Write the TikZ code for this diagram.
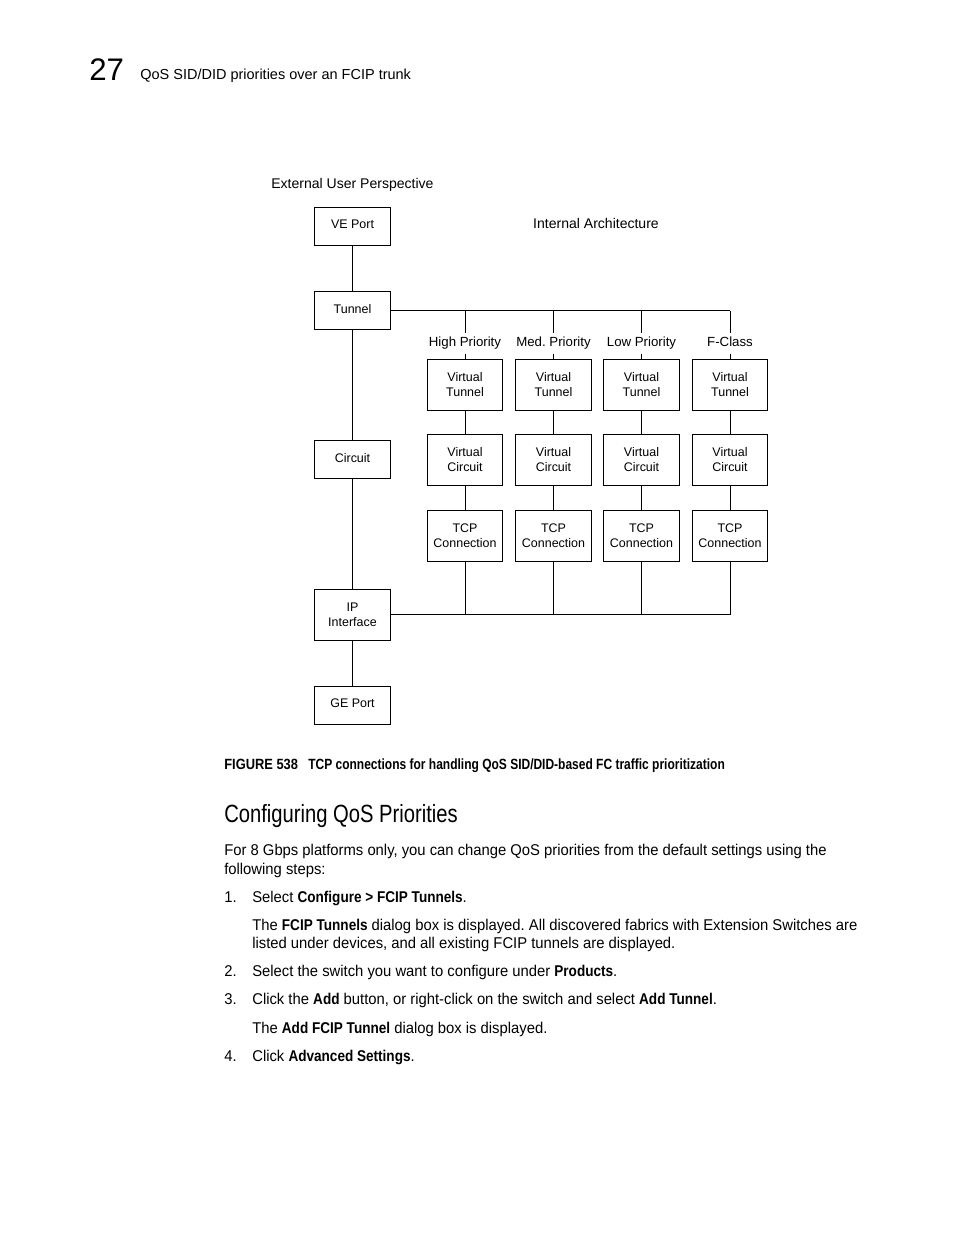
\documentclass[tikz,border=0pt]{standalone}
\usepackage{fontspec}
\setmainfont{Liberation Sans}
\newfontfamily\narrowfont[FakeStretch=0.95, BoldFeatures={FakeStretch=0.87}]{Liberation Sans}
\newfontfamily\capfont[FakeStretch=0.81]{Liberation Sans}
\newfontfamily\fignofont[FakeStretch=0.87]{Liberation Sans}
\frenchspacing
\begin{document}
\begin{tikzpicture}[x=0.6415pt, y=-0.6415pt,
				every node/.style={
						font=\fontsize{8}{9.6}\selectfont,
					},
				block/.style={draw, line width=0.6pt, minimum width=48.2pt, minimum height=24.4pt, align=center, inner sep=1pt},
				oneline/.style={block, text depth=2.5pt},
				colbox/.style={block, minimum height=32.7pt},
				prio/.style={inner sep=2.5pt, text height=6.2pt, text depth=1.8pt, font=\fontsize{8.5}{10}\selectfont},
				title/.style={font=\fontsize{9}{11}\selectfont},
				body/.style={anchor=base west, inner sep=0pt, font=\narrowfont\fontsize{10}{12}\selectfont},
				line/.style={line width=0.6pt},]
			\useasboundingbox (0,0) rectangle (954,1235);
			% page header
			\node[anchor=base west, inner sep=0pt, font=\fontsize{20}{24}\selectfont] (chap) at (89,80) {27};
			\node[anchor=base west, inner sep=0pt, font=\fontsize{9.3}{11}\selectfont] (runhead) at (140,79) {QoS SID/DID priorities over an FCIP trunk};
			% left column
			\node[title, anchor=base west, inner sep=0pt] (extlabel) at (271,188.5) {External User Perspective};
			\node[oneline] (veport) at (352.5,226) {VE Port};
			\node[oneline] (tunnel) at (352.5,310.5) {Tunnel};
			\node[oneline] (circuit) at (352.5,459.5) {Circuit};
			\node[colbox] (ipif) at (352.5,614.5) {IP\\Interface};
			\node[oneline] (geport) at (352.5,705.5) {GE Port};
			\node[title] (intlabel) at (596,223) {Internal Architecture};
			\draw[line] (veport) -- (tunnel) (tunnel) -- (circuit) (circuit) -- (ipif) (ipif) -- (geport);
			% priority columns
			\foreach \i/\x/\p in {1/465/High Priority, 2/553.5/Med. Priority, 3/641.5/Low Priority, 4/730/F-Class} {
					\node[prio] (prio\i) at (\x,343.5) {\p};
					\node[colbox] (vt\i) at (\x,384.5) {Virtual\\Tunnel};
					\node[colbox] (vc\i) at (\x,459.5) {Virtual\\Circuit};
					\node[colbox] (tcp\i) at (\x,535.5) {TCP\\Connection};
					\draw[line] (tunnel.east -| prio\i.north) -- (prio\i.north);
					\draw[line] (prio\i) -- (vt\i) (vt\i) -- (vc\i) (vc\i) -- (tcp\i);
					\draw[line] (tcp\i.south) -- (tcp\i.south |- ipif.east);
				}
			\draw[line] (tunnel.east) -- (tunnel.east -| prio4.north);
			\draw[line] (ipif.east) -- (ipif.east -| tcp4.south);
			% caption and heading
			\node[anchor=base west, inner sep=0pt, font=\fignofont\bfseries\fontsize{9.5}{11}\selectfont] (figno) at (224,769) {FIGURE 538};
			\node[anchor=base west, inner sep=0pt, font=\capfont\bfseries\fontsize{9.5}{11}\selectfont] (figcap) at (308,769) {TCP connections for handling QoS SID/DID-based FC traffic prioritization};
			\node[anchor=base west, inner sep=0pt, font=\capfont\fontsize{16}{19}\selectfont] (heading) at (224,822) {Configuring QoS Priorities};
			% body text
			\node[body] (l1) at (224,855) {For 8 Gbps platforms only, you can change QoS priorities from the default settings using the};
			\node[body] (l2) at (224,874) {following steps:};
			\node[body] (n1) at (224,902) {1.};
			\node[body] (s1) at (252,902) {Select \textbf{Configure > FCIP Tunnels}.};
			\node[body] (s1a) at (252,930) {The \textbf{FCIP Tunnels} dialog box is displayed. All discovered fabrics with Extension Switches are};
			\node[body] (s1b) at (252,948) {listed under devices, and all existing FCIP tunnels are displayed.};
			\node[body] (n2) at (224,976) {2.};
			\node[body] (s2) at (252,976) {Select the switch you want to configure under \textbf{Products}.};
			\node[body] (n3) at (224,1004) {3.};
			\node[body] (s3) at (252,1004) {Click the \textbf{Add} button, or right-click on the switch and select \textbf{Add Tunnel}.};
			\node[body] (s3a) at (252,1033) {The \textbf{Add FCIP Tunnel} dialog box is displayed.};
			\node[body] (n4) at (224,1061) {4.};
			\node[body] (s4) at (252,1061) {Click \textbf{Advanced Settings}.};
		\end{tikzpicture}
\end{document}
